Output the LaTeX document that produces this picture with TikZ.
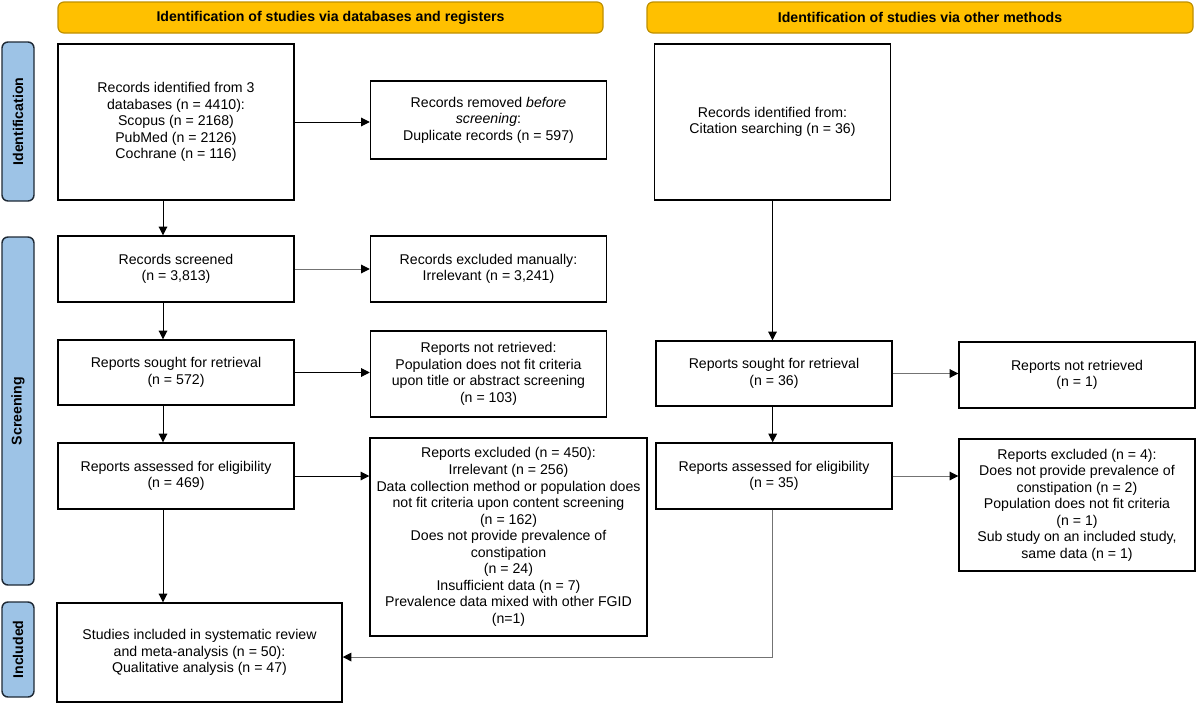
\documentclass[tikz,border=0pt]{standalone}
\usepackage{fontspec}
\setmainfont{Liberation Sans}
\usepackage{tikz}
\definecolor{banner}{HTML}{FFC000}
\definecolor{bannerline}{HTML}{BF9000}
\definecolor{phasefill}{HTML}{9DC3E6}
\definecolor{phaseline}{HTML}{1F2A36}
\tikzset{
    stage/.style={draw, line width=1.1pt, fill=white, align=center,
        minimum width=177pt, inner sep=2pt,
        font=\fontsize{10.6}{12.4}\selectfont},
    banner/.style={draw=bannerline, line width=0.9pt, fill=banner,
        rounded corners=4.5pt, minimum height=23.25pt,
        font=\bfseries\fontsize{10.6}{12.4}\selectfont},
    phase/.style={draw=phaseline, line width=1.1pt, fill=phasefill,
        rounded corners=4.5pt, rotate=90, minimum height=24pt,
        font=\bfseries\fontsize{10.6}{12.4}\selectfont},
    flow/.style = {-{Triangle[length=6.5pt, width=6.5pt, color=black]}, line width=0.75pt},
    faint/.style = {draw=black!55} }
\usetikzlibrary{arrows.meta}

\begin{document}
\begin{tikzpicture}[x=0.75pt, y=-0.75pt]
      \useasboundingbox (0,0) rectangle (1196,703);
      % ---- banners and phases
      \node[banner, minimum width=408.75pt] (dbhead) at (330.5,17.5)
          {Identification of studies via databases and registers};
      \node[banner, minimum width=409.5pt] (othhead) at (920,17.5)
          {Identification of studies via other methods};
      \node[phase, minimum width=119.25pt] (idphase) at (18,121.5) {Identification};
      \node[phase, minimum width=261pt] (scphase) at (18,411) {Screening};
      \node[phase, minimum width=71.25pt] (inphase) at (18,649.5) {Included};
      % ---- databases and registers
      \node[stage, minimum height=117pt] (recid) at (176,122)
          {Records identified from 3\\databases (n = 4410):\\Scopus (n = 2168)\\PubMed (n = 2126)\\Cochrane (n = 116)};
      \node[stage, minimum height=58.5pt] (recrem) at (488.5,120)
          {Records removed \emph{before}\\\emph{screening}:\\Duplicate records (n = 597)};
      \node[stage, minimum height=49.5pt] (recscr) at (176,269)
          {Records screened\\(n = 3,813)};
      \node[stage, minimum height=49.5pt] (recexc) at (488.5,269)
          {Records excluded manually:\\Irrelevant (n = 3,241)};
      \node[stage, minimum height=48.75pt] (dbsought) at (176,372.5)
          {Reports sought for retrieval\\(n = 572)};
      \node[stage, minimum height=64.5pt] (dbnotret) at (488.5,374)
          {Reports not retrieved:\\Population does not fit criteria\\upon title or abstract screening\\(n = 103)};
      \node[stage, minimum height=49.5pt] (dbassess) at (176,476)
          {Reports assessed for eligibility\\(n = 469)};
      \node[stage, minimum width=207.75pt, minimum height=148.5pt] (dbexcl) at (508.5,537)
          {Reports excluded (n = 450):\\Irrelevant (n = 256)\\Data collection method or population does\\not fit criteria upon content screening\\(n = 162)\\Does not provide prevalence of\\constipation\\(n = 24)\\Insufficient data (n = 7)\\Prevalence data mixed with other FGID\\(n=1)};
      \node[stage, minimum width=213.75pt, minimum height=74.25pt] (incl) at (199.5,652.5)
          {Studies included in systematic review\\and meta-analysis (n = 50):\\Qualitative analysis (n = 47)};
      % ---- other methods
      \node[stage, minimum height=117pt] (citid) at (772.5,122)
          {Records identified from:\\Citation searching (n = 36)};
      \node[stage, minimum height=48.75pt] (othsought) at (774,373.5)
          {Reports sought for retrieval\\(n = 36)};
      \node[stage, minimum height=49.5pt] (othnotret) at (1077,375)
          {Reports not retrieved\\(n = 1)};
      \node[stage, minimum height=49.5pt] (othassess) at (774,476)
          {Reports assessed for eligibility\\(n = 35)};
      \node[stage, minimum height=99pt] (othexcl) at (1077,505)
          {Reports excluded (n = 4):\\Does not provide prevalence of\\constipation (n = 2)\\Population does not fit criteria\\(n = 1)\\Sub study on an included study,\\same data (n = 1)};
      % ---- connectors
      \draw[flow] ([xshift=-9.75pt]recid.south) -- ([xshift=-9.75pt]recscr.north);
      \draw[flow] ([xshift=-9.75pt]recscr.south) -- ([xshift=-9.75pt]dbsought.north);
      \draw[flow] ([xshift=-9.75pt]dbsought.south) -- ([xshift=-9.75pt]dbassess.north);
      \draw[flow] ([xshift=-9.75pt]dbassess.south) -- ([xshift=-9.75pt]dbassess.south |- incl.north);
      \draw[flow] (recid.east) -- (recid.east -| recrem.west);
      \draw[flow, faint] (recscr.east) -- (recscr.east -| recexc.west);
      \draw[flow] (dbsought.east) -- (dbsought.east -| dbnotret.west);
      \draw[flow] (dbassess.east) -- (dbassess.east -| dbexcl.west);
      % ----
      \draw[flow] (citid.south) -- (citid.south |- othsought.north);
      \draw[flow] ([xshift=-1pt]othsought.south) -- ([xshift=-1pt]othassess.north);
      \draw[flow, faint] (othsought.east) -- (othsought.east -| othnotret.west);
      \draw[flow, faint] (othassess.east) -- (othassess.east -| othexcl.west);
      \draw[flow, faint] ([xshift=-1pt]othassess.south) |- ([yshift=-3.4pt]incl.east);
\end{tikzpicture}
\end{document}
